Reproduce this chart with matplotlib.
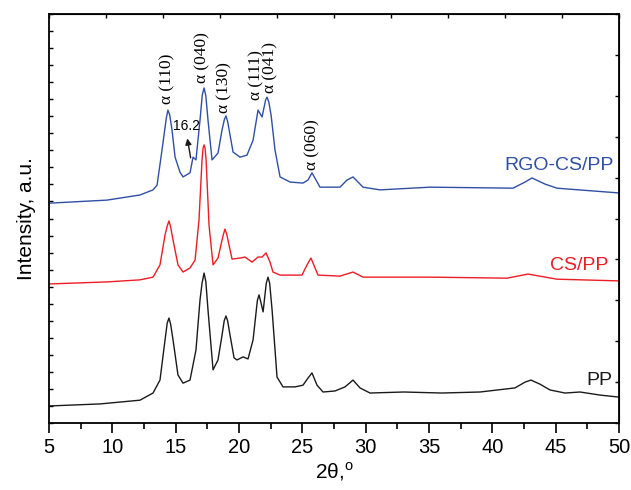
import matplotlib.pyplot as plt
import numpy as np

plt.rcParams['font.family'] = ['Liberation Sans', 'DejaVu Sans']
plt.rcParams['mathtext.fontset'] = 'custom'
plt.rcParams['mathtext.rm'] = 'Liberation Sans'

# 2theta (deg) / intensity (a.u.)
pp_x = [5.0, 9.03, 12.18, 13.21, 13.76, 14.16, 14.33, 14.47, 14.6, 14.79, 15.18, 15.58, 16.13,
        16.60, 16.92, 17.08, 17.24, 17.38, 17.55, 17.95, 18.34, 18.66, 18.83, 18.97, 19.1, 19.29,
        19.61, 19.84, 20.32, 20.71, 21.11, 21.45, 21.58, 21.72, 21.90, 22.15, 22.29, 22.42, 22.61,
        23.0, 23.47, 24.42, 25.05, 25.45, 25.76, 26.16, 26.63, 27.58, 28.37, 29.0, 29.55, 30.34,
        33.0, 36.0, 39.03, 41.79, 42.58, 43.05, 43.76, 44.55, 45.74, 46.92, 48.5, 50.0]
pp_y = [5.0, 5.6, 6.7, 8.8, 12.6, 24.4, 29.3, 30.8, 29.0, 24.4, 14.1, 11.7, 12.6,
        21.4, 36.1, 41.0, 44.0, 41.5, 33.2, 15.6, 18.5, 25.8, 30.0, 31.4, 30.0, 25.8,
        19.1, 18.5, 19.4, 18.8, 24.4, 36.0, 37.6, 35.5, 32.6, 41.0, 42.8, 41.0, 33.2,
        13.5, 10.6, 10.6, 11.1, 13.2, 14.7, 11.1, 9.1, 9.4, 10.6, 12.6, 10.3, 8.8,
        9.1, 8.8, 9.1, 10.3, 12.0, 12.6, 11.4, 9.7, 8.8, 9.1, 8.2, 7.6]

cs_x = [5.0, 9.58, 12.18, 13.21, 13.76, 14.16, 14.33, 14.47, 14.6, 14.79, 15.18, 15.58, 16.13,
        16.53, 16.84, 17.08, 17.16, 17.24, 17.32, 17.40, 17.63, 17.95, 18.34, 18.66, 18.78, 18.89,
        19.02, 19.21, 19.45, 20.08, 20.47, 21.03, 21.50, 21.82, 22.13, 22.45, 22.68, 23.24, 24.97,
        25.37, 25.68, 26.0, 26.24, 27.97, 29.0, 29.79, 35.08, 41.16, 42.82, 45.1, 50.0]
cs_y = [40.8, 41.4, 42.0, 42.8, 46.4, 55.2, 57.8, 59.3, 57.5, 53.7, 46.4, 44.3, 45.5,
        47.8, 59.6, 77.2, 80.6, 81.6, 80.6, 77.2, 58.1, 46.4, 48.4, 53.7, 55.5, 56.9,
        55.5, 52.2, 48.1, 48.4, 48.7, 47.2, 48.7, 48.7, 49.9, 47.2, 44.3, 43.4, 43.4,
        46.4, 48.4, 45.5, 43.4, 43.1, 44.3, 42.8, 42.8, 42.5, 43.7, 42.2, 41.7]

rgo_x = [5.0, 9.58, 12.18, 13.21, 13.53, 13.92, 14.26, 14.39, 14.52, 14.71, 14.95, 15.34, 15.58,
         16.13, 16.37, 16.60, 16.92, 17.1, 17.24, 17.38, 17.55, 17.87, 18.34, 18.66, 18.84, 18.97,
         19.1, 19.29, 19.53, 20.08, 20.63, 21.11, 21.50, 21.82, 22.1, 22.21, 22.35, 22.53, 22.84,
         23.24, 24.03, 25.05, 25.45, 25.76, 26.08, 26.39, 27.97, 28.53, 29.0, 29.79, 31.13, 35.08,
         41.63, 42.58, 43.13, 44.16, 45.1, 50.0]
rgo_y = [64.5, 65.4, 66.9, 68.4, 69.8, 80.1, 89.5, 91.8, 90.5, 86.0, 78.0, 73.6, 72.2,
         73.4, 78.0, 77.2, 88.9, 96.3, 98.3, 96.0, 88.9, 77.2, 79.2, 86.0, 89.0, 90.1,
         88.5, 84.5, 79.5, 78.0, 78.6, 83.0, 91.8, 89.8, 94.8, 95.6, 94.2, 90.4, 80.1,
         72.2, 70.7, 70.4, 71.3, 73.4, 71.3, 69.2, 69.2, 71.3, 72.2, 69.2, 68.4, 69.2,
         68.9, 70.7, 71.9, 70.1, 68.9, 67.5]

# peak labels: text, 2theta, intensity at label bottom
peak_labels = ['α (110)', 'α (040)', 'α (130)', 'α (111)', 'α (041)', 'α (060)']
peak_x = [14.35, 17.1, 18.85, 21.35, 22.5, 25.8]
peak_y = [93.5, 99.8, 91.0, 94.8, 96.8, 74.2]

fig = plt.figure(figsize=(6.31, 4.9), dpi=100)
ax = fig.add_axes([0.0777, 0.1367, 0.9033, 0.8347])

ax.plot(pp_x, pp_y, color='#1a1a1a', lw=1.0)
ax.plot(cs_x, cs_y, color='#ee1c24', lw=1.0)
ax.plot(rgo_x, rgo_y, color='#2f4fa5', lw=1.0)

ax.text(49.6, 75.7, 'RGO-CS/PP', color='#2f4fa5', fontsize=14, ha='right', va='center')
ax.text(49.15, 46.1, 'CS/PP', color='#ee1c24', fontsize=14, ha='right', va='center')
ax.text(49.45, 12.6, 'PP', color='#1a1a1a', fontsize=14, ha='right', va='center')

for lab, px, py in zip(peak_labels, peak_x, peak_y):
    ax.text(px, py, lab, rotation=90, ha='center', va='bottom', fontsize=12.5,
            family=['Liberation Serif', 'DejaVu Serif'])

ax.annotate('', xy=(15.88, 84.3), xytext=(16.22, 77.0),
            arrowprops=dict(arrowstyle='-|>', color='#1a1a1a', lw=1.0, mutation_scale=9))
ax.text(14.8, 87.1, '16.2', fontsize=10, ha='left', va='center')

ax.set_xlim(5, 50)
ax.set_ylim(0, 120)
ax.set_xticks(np.arange(5, 51, 5))
ax.set_xticks(np.arange(5, 50.1, 2.5), minor=True)
ax.set_yticks(np.arange(0, 120.1, 5))
ax.set_yticklabels([])
ax.tick_params(axis='x', which='major', direction='out', length=7, width=1.2, labelsize=14.5)
ax.tick_params(axis='x', which='minor', direction='out', length=4, width=1.2)
ax.tick_params(axis='y', which='major', direction='in', length=3, width=1.0, left=True)

top = ax.secondary_xaxis('top')
top.set_xticks(np.arange(5, 50.1, 4.5))
top.set_xticklabels([])
top.tick_params(direction='in', length=3, width=1.0)

right = ax.secondary_yaxis('right')
right.set_yticks(np.arange(0, 120.1, 12))
right.set_yticklabels([])
right.tick_params(direction='in', length=3, width=1.0)

for s in ax.spines.values():
    s.set_linewidth(1.3)

ax.set_xlabel(r'2θ,$^{\rm o}$', fontsize=15, labelpad=3)
ax.set_ylabel('Intensity, a.u.', fontsize=15, labelpad=6)

fig.savefig('out.png', dpi=100)
